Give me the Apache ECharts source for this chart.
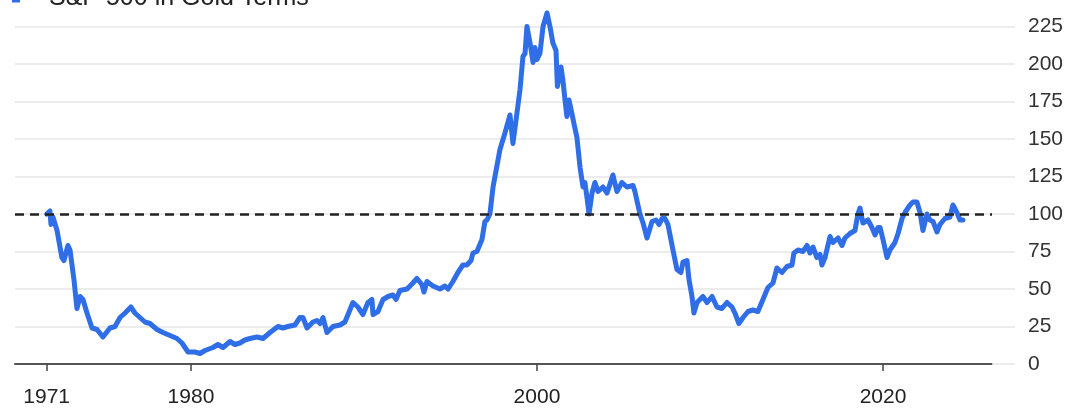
<!DOCTYPE html>
<html>
<head>
<meta charset="utf-8">
<title>S&amp;P 500 in Gold Terms</title>
<script src="https://cdn.jsdelivr.net/npm/echarts@6/dist/echarts.min.js"></script>
<style>
  html, body { margin: 0; padding: 0; background: #ffffff; }
  #chart { width: 1078px; height: 409px; }
</style>
</head>
<body>
<div id="chart"></div>
<script>
// S&P 500 priced in gold, indexed to 100 at the end of the gold standard (Aug 1971)
const seriesName = 'S&P 500 in Gold Terms';

// decimal years of each observation
const years = [
  1971.66, 1971.85, 1971.91, 1972.02, 1972.26, 1972.54, 1972.66, 1972.89, 1973.01, 1973.24,
  1973.41, 1973.59, 1973.76, 1973.99, 1974.28, 1974.57, 1974.91, 1975.32, 1975.61, 1975.90,
  1976.19, 1976.53, 1976.76, 1977.05, 1977.34, 1977.63, 1978.04, 1978.38, 1978.79, 1979.19,
  1979.48, 1979.83, 1979.94, 1980.23, 1980.52, 1980.81, 1981.27, 1981.56, 1981.85, 1982.26,
  1982.54, 1982.83, 1983.12, 1983.41, 1983.82, 1984.16, 1984.57, 1985.03, 1985.32, 1985.61,
  1986.01, 1986.30, 1986.47, 1986.71, 1987.05, 1987.28, 1987.46, 1987.63, 1987.86, 1988.21,
  1988.61, 1988.90, 1989.08, 1989.36, 1989.65, 1989.94, 1990.23, 1990.46, 1990.52, 1990.81,
  1991.10, 1991.39, 1991.68, 1991.85, 1992.08, 1992.49, 1992.83, 1993.06, 1993.35, 1993.47,
  1993.64, 1993.99, 1994.39, 1994.68, 1994.86, 1995.14, 1995.43, 1995.72, 1995.95, 1996.19,
  1996.30, 1996.53, 1996.82, 1996.99, 1997.11, 1997.28, 1997.46, 1997.86, 1998.15, 1998.44,
  1998.61, 1998.84, 1999.02, 1999.19, 1999.31, 1999.42, 1999.60, 1999.77, 1999.88, 2000.00,
  2000.17, 2000.35, 2000.58, 2000.75, 2000.92, 2001.10, 2001.18, 2001.39, 2001.50, 2001.62,
  2001.73, 2001.85, 2002.02, 2002.14, 2002.31, 2002.49, 2002.66, 2002.77, 2002.89, 2003.01,
  2003.18, 2003.35, 2003.53, 2003.81, 2004.05, 2004.39, 2004.62, 2004.91, 2005.20, 2005.55,
  2005.66, 2005.95, 2006.13, 2006.36, 2006.65, 2006.88, 2007.05, 2007.23, 2007.40, 2007.57,
  2007.86, 2008.09, 2008.32, 2008.44, 2008.67, 2008.79, 2008.96, 2009.07, 2009.25, 2009.59,
  2009.83, 2010.12, 2010.40, 2010.69, 2010.98, 2011.27, 2011.44, 2011.67, 2011.91, 2012.20,
  2012.48, 2012.77, 2013.06, 2013.35, 2013.64, 2013.87, 2014.16, 2014.45, 2014.74, 2014.85,
  2015.09, 2015.37, 2015.61, 2015.78, 2015.95, 2016.18, 2016.36, 2016.47, 2016.65, 2016.94,
  2017.11, 2017.40, 2017.63, 2017.80, 2018.09, 2018.38, 2018.55, 2018.67, 2018.84, 2019.13,
  2019.36, 2019.54, 2019.71, 2019.83, 2020.00, 2020.23, 2020.40, 2020.69, 2020.87, 2021.10,
  2021.27, 2021.56, 2021.73, 2021.96, 2022.14, 2022.31, 2022.54, 2022.71, 2022.89, 2023.12,
  2023.29, 2023.58, 2023.87, 2024.04, 2024.27, 2024.45, 2024.62
];

// index level (Aug 1971 = 100)
const values = [
  100, 102, 93, 98, 89, 71, 69, 79, 76, 56,
  37, 45, 43, 34, 24, 23, 18, 24, 25, 31,
  34, 38, 34, 31, 28, 27, 23, 21, 19, 17,
  14, 8, 7, 8, 7, 9, 11, 13, 11, 15,
  13, 14, 16, 17, 18, 17, 21, 25, 24, 25,
  26, 31, 31, 24, 28, 29, 27, 31, 21, 25,
  26, 28, 33, 41, 38, 33, 41, 43, 33, 35,
  43, 45, 46, 43, 49, 50, 54, 57, 53, 48,
  55, 52, 50, 52, 50, 55, 61, 66, 66, 69,
  74, 75, 83, 95, 96, 100, 118, 143, 154, 166,
  147, 167, 183, 205, 207, 225, 214, 201, 211, 203,
  207, 225, 234, 225, 214, 209, 185, 198, 189, 176,
  165, 176, 167, 160, 151, 131, 118, 121, 111, 100,
  114, 121, 115, 118, 114, 126, 115, 121, 118, 119,
  115, 100, 94, 84, 95, 96, 93, 97, 97, 93,
  76, 63, 61, 68, 69, 56, 45, 34, 41, 45,
  41, 45, 38, 37, 41, 38, 34, 27, 31, 35,
  36, 35, 43, 51, 54, 64, 61, 65, 66, 74,
  76, 75, 79, 74, 78, 71, 73, 66, 71, 85,
  81, 84, 79, 84, 87, 89, 100, 104, 94, 96,
  91, 86, 91, 91, 83, 71, 76, 81, 87, 97,
  101, 106, 108, 108, 101, 89, 100, 96, 95, 88,
  93, 97, 98, 106, 101, 96, 96
];

// labelled year ticks (first one is the start of the series)
const xTicks = [1971.66, 1980, 2000, 2020];
const yTicks = [0, 25, 50, 75, 100, 125, 150, 175, 200, 225];
const baseline = 100;

const fontFamily = "'Liberation Sans', Arial, Helvetica, sans-serif";
const lineBlue = '#2f6ee6';
const gridGrey = '#e6e6e6';

const chart = echarts.init(document.getElementById('chart'), null, { renderer: 'canvas' });

chart.setOption({
  backgroundColor: '#ffffff',
  animation: false,
  legend: {
    show: true,
    left: 12,
    top: -14,
    padding: 0,
    itemWidth: 8,
    itemHeight: 8,
    icon: 'rect',
    data: [{ name: seriesName, itemStyle: { color: lineBlue } }],
    textStyle: {
      fontFamily: fontFamily,
      fontSize: 25,
      color: '#222222',
      padding: [0, 0, 0, 24]
    }
  },
  grid: {
    left: 15,
    right: 86,
    top: 26.5,
    bottom: 45,
    containLabel: false
  },
  xAxis: {
    type: 'value',
    min: 1969.83,
    max: 2026.3,
    splitLine: { show: false },
    axisLine: { show: true, lineStyle: { color: '#555555', width: 2 } },
    axisTick: {
      show: true,
      customValues: xTicks,
      length: 7,
      lineStyle: { color: '#444444', width: 1.5 }
    },
    axisLabel: {
      show: true,
      customValues: xTicks,
      margin: 23,
      fontFamily: fontFamily,
      fontSize: 21,
      color: '#222222',
      formatter: v => String(Math.floor(v))
    }
  },
  yAxis: {
    type: 'value',
    position: 'right',
    min: 0,
    max: 225,
    interval: 25,
    axisLine: { show: false },
    axisTick: {
      show: true,
      length: 23,
      lineStyle: { color: gridGrey, width: 1.5 }
    },
    splitLine: {
      show: true,
      lineStyle: { color: gridGrey, width: 1.5 }
    },
    axisLabel: {
      show: true,
      margin: 36,
      align: 'left',
      fontFamily: fontFamily,
      fontSize: 21,
      color: '#333333',
      customValues: yTicks
    }
  },
  series: [
    {
      name: seriesName,
      type: 'line',
      data: years.map((y, i) => [y, values[i]]),
      showSymbol: false,
      symbol: 'none',
      clip: false,
      lineStyle: { color: lineBlue, width: 5, join: 'round', cap: 'round' },
      itemStyle: { color: lineBlue },
      z: 3,
      markLine: {
        silent: true,
        symbol: ['none', 'none'],
        label: { show: false },
        lineStyle: { color: '#222222', width: 2.5, type: [9, 6] },
        data: [{ yAxis: baseline }],
        z: 4
      }
    }
  ]
});
</script>
</body>
</html>
